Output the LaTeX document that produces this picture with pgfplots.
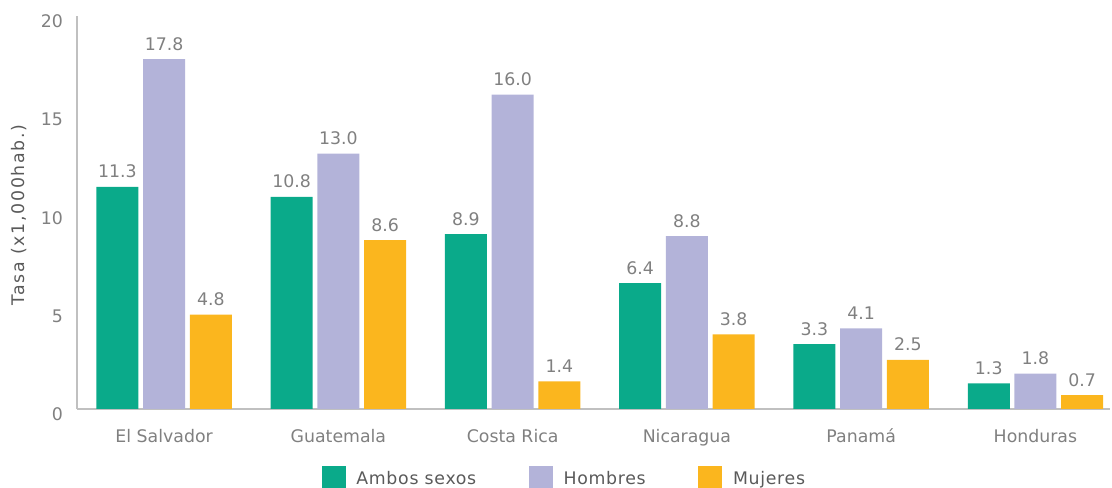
\documentclass[border=0pt]{standalone}
\usepackage{pgfplots}
\pgfplotsset{compat=1.18}
\usepackage{fontspec}
\setmainfont{DejaVu Sans}
\newfontfamily\legfont{DejaVu Sans}[LetterSpace=4]
\newfontfamily\ylabfont{DejaVu Sans}[LetterSpace=10]
\definecolor{cgreen}{HTML}{0AAA8A}
\definecolor{clav}{HTML}{B3B3D9}
\definecolor{corange}{HTML}{FBB61E}
\definecolor{ctext}{HTML}{808080}
\definecolor{clabel}{HTML}{5A5A5A}
\definecolor{caxis}{HTML}{C0C0C0}
\begin{document}
\begin{tikzpicture}
\useasboundingbox (-57.75pt,-59.25pt) rectangle (776.25pt,306.75pt);
\begin{axis}[
  scale only axis,
  width=775pt, height=294.75pt,
  ymin=0, ymax=20,
  xmin=-0.5, xmax=5.43,
  ybar=3.5pt, bar width=31.5pt,
  axis x line=bottom, axis y line=left,
  axis line style={-, caxis, line width=1.1pt},
  major tick length=0pt,
  xtick=data,
  xticklabels={El Salvador,Guatemala,Costa Rica,Nicaragua,Panamá,Honduras},
  ytick={0,5,10,15,20},
  x tick label style={font=\fontsize{13pt}{15pt}\selectfont, text=ctext, text height=11pt, text depth=3pt, yshift=-10.5pt},
  y tick label style={font=\fontsize{13pt}{15pt}\selectfont, text=ctext, xshift=-7pt, yshift=-4pt},
  /pgf/number format/assume math mode=true,
  ylabel={Tasa (x1,000hab.)},
  every axis y label/.style={at={(rel axis cs:0,0.494)}, rotate=90, anchor=center, yshift=43.5pt, font=\ylabfont\fontsize{13pt}{15pt}\selectfont, text=clabel},
  nodes near coords,
  nodes near coords style={font=\fontsize{13pt}{15pt}\selectfont, text=ctext, yshift=3pt,
    /pgf/number format/fixed, /pgf/number format/fixed zerofill, /pgf/number format/precision=1, /pgf/number format/assume math mode=true},
  legend columns=3,
  legend style={at={(0.472,-0.1756)}, anchor=center, draw=none, fill=none,
    font=\legfont\fontsize{13pt}{15pt}\selectfont, text=clabel,
    /tikz/every odd column/.append style={column sep=6pt},
    /tikz/every even column/.append style={column sep=37.5pt}},
  legend image code/.code={\fill[#1] (0pt,-8pt) rectangle (18pt,10pt);},
]
\addplot[fill=cgreen, draw=none] coordinates {(0,11.3) (1,10.8) (2,8.9) (3,6.4) (4,3.3) (5,1.3)};
\addplot[fill=clav, draw=none] coordinates {(0,17.8) (1,13.0) (2,16.0) (3,8.8) (4,4.1) (5,1.8)};
\addplot[fill=corange, draw=none] coordinates {(0,4.8) (1,8.6) (2,1.4) (3,3.8) (4,2.5) (5,0.7)};
\legend{Ambos sexos, Hombres, Mujeres}
\end{axis}
\end{tikzpicture}
\end{document}
